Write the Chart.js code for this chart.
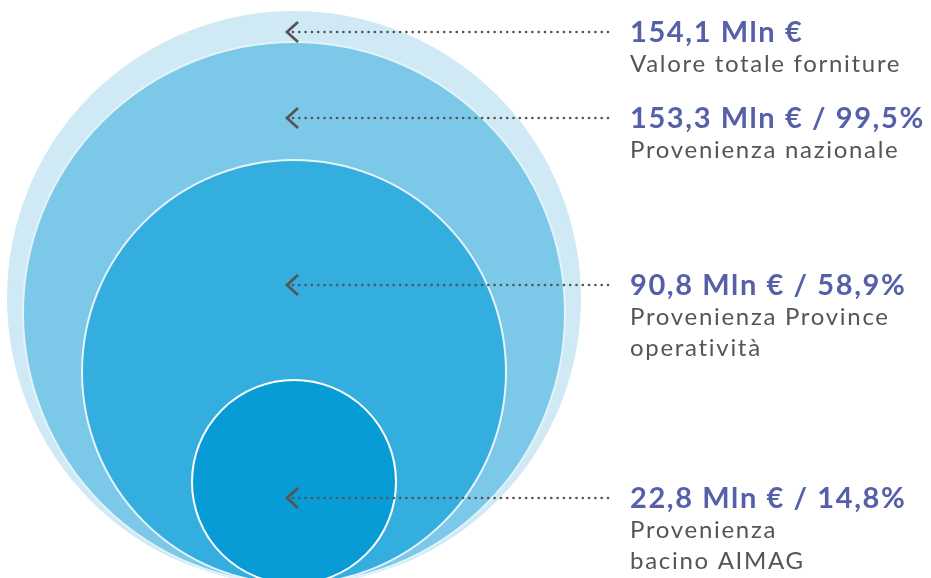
<!DOCTYPE html>
<html>
<head>
<meta charset="utf-8">
<script src="https://cdn.jsdelivr.net/npm/chart.js@4"></script>
<style>
  html, body { margin: 0; padding: 0; background: #fff; }
  #c { display: block; }
</style>
</head>
<body>
<canvas id="c" width="931" height="578"></canvas>
<script>
// values in Mln €, share of total (%)
var values = [154.1, 153.3, 90.8, 22.8];
var shares = [null, 99.5, 58.9, 14.8];
var descriptions = [
  ['Valore totale forniture'],
  ['Provenienza nazionale'],
  ['Provenienza Province', 'operatività'],
  ['Provenienza', 'bacino AIMAG']
];
// circle radii as drawn (1 chart unit = 1 px), all resting on the same base line
var radii = [286, 271, 212, 102];
// height of each pointer arrow (chart units)
var arrowY = [552, 466, 299, 86];
var colors = ['#cfeaf5', '#7cc8e8', '#33aedf', '#089cd6'];
var borders = ['#cfeaf5', '#e3f3fa', '#e6f4fb', '#ffffff'];

function fmt(v){
  return v.toFixed(1).replace('.', ',');
}

var labels = values.map(function(v, i){
  var s = fmt(v) + ' Mln €';
  if (shares[i] !== null) s += ' / ' + fmt(shares[i]) + '%';
  return s;
});

var pointers = {
  id: 'pointers',
  afterDatasetsDraw: function(chart){
    var ctx = chart.ctx;
    var xs = chart.scales.x, ys = chart.scales.y;
    var tipX = xs.getPixelForValue(-7);
    var endX = xs.getPixelForValue(318);
    var textX = xs.getPixelForValue(336);
    ctx.save();
    arrowY.forEach(function(yv, i){
      var y = ys.getPixelForValue(yv);
      // chevron
      ctx.strokeStyle = '#555555';
      ctx.lineWidth = 2.8;
      ctx.setLineDash([]);
      ctx.lineCap = 'butt';
      ctx.beginPath();
      ctx.moveTo(tipX + 11, y - 10);
      ctx.lineTo(tipX, y);
      ctx.lineTo(tipX + 11, y + 10);
      ctx.stroke();
      // dotted leader
      ctx.lineWidth = 2.7;
      ctx.lineCap = 'round';
      ctx.setLineDash([0, 6.3]);
      ctx.beginPath();
      ctx.moveTo(tipX + 6, y);
      ctx.lineTo(endX, y);
      ctx.stroke();
      // texts
      ctx.setLineDash([]);
      ctx.textBaseline = 'middle';
      ctx.textAlign = 'left';
      ctx.fillStyle = '#5560a8';
      ctx.font = 'bold 29px Lato';
      ctx.letterSpacing = '1.6px';
      ctx.fillText(labels[i], textX, y + 1);
      ctx.fillStyle = '#555555';
      ctx.font = '24px Lato';
      ctx.letterSpacing = '1.7px';
      descriptions[i].forEach(function(line, k){
        ctx.fillText(line, textX, y + 32 + k * 31);
      });
    });
    ctx.restore();
  }
};

var ctx = document.getElementById('c');
var chart = new Chart(ctx, {
  type: 'bubble',
  data: {
    datasets: [{
      data: radii.map(function(r){ return {x: 0, y: r, r: r}; }),
      backgroundColor: colors,
      borderColor: borders,
      borderWidth: 2,
      hoverBorderWidth: 2,
      clip: false
    }]
  },
  options: {
    responsive: false,
    animation: false,
    events: [],
    layout: { padding: 0, autoPadding: false },
    plugins: { legend: { display: false }, tooltip: { enabled: false } },
    scales: {
      x: { type: 'linear', display: false, min: -294, max: 637 },
      y: { type: 'linear', display: false, min: 6, max: 584 }
    }
  },
  plugins: [pointers]
});
</script>
</body>
</html>
